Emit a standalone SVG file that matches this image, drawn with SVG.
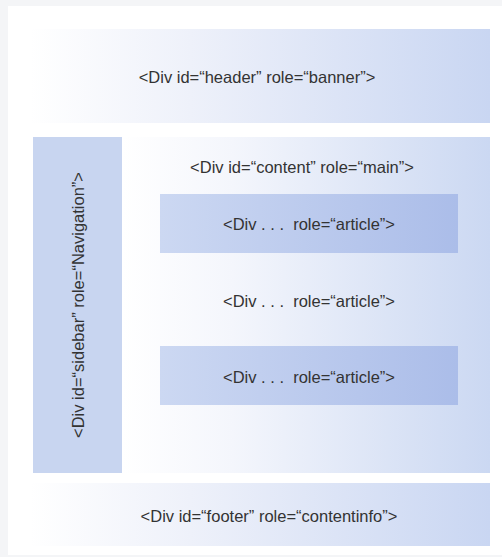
<svg xmlns="http://www.w3.org/2000/svg" width="502" height="557" viewBox="0 0 502 557">
<defs>
<linearGradient id="gWide" x1="0" y1="0" x2="1" y2="0">
<stop offset="0" stop-color="#ffffff"/>
<stop offset="0.35" stop-color="#eef1fa"/>
<stop offset="1" stop-color="#c9d6f2"/>
</linearGradient>
<linearGradient id="gContent" x1="0" y1="0" x2="1" y2="0">
<stop offset="0" stop-color="#ffffff"/>
<stop offset="0.3" stop-color="#f4f6fc"/>
<stop offset="1" stop-color="#cbd8f2"/>
</linearGradient>
<linearGradient id="gArticle" x1="0" y1="0" x2="1" y2="0">
<stop offset="0" stop-color="#ccd8f2"/>
<stop offset="1" stop-color="#abbde9"/>
</linearGradient>
<style>
text{font-family:"Liberation Sans",Arial,sans-serif;font-size:16.5px;fill:#333333;text-anchor:middle;dominant-baseline:central;white-space:pre}
</style>
</defs>
<rect x="0" y="0" width="502" height="557" fill="#f4f5f7"/>
<rect x="8" y="6" width="494" height="549" fill="#ffffff"/>
<g id="header">
<rect x="30" y="29" width="460" height="94" fill="url(#gWide)"/>
<text x="257" y="77">&lt;Div id=“header” role=“banner”&gt;</text>
</g>
<g id="sidebar">
<rect x="33" y="137" width="89" height="336" fill="#c8d5f0"/>
<text transform="translate(78,305) rotate(-90)">&lt;Div id=“sidebar” role=“Navigation”&gt;</text>
</g>
<g id="content">
<rect x="122" y="137" width="368" height="336" fill="url(#gContent)"/>
<text x="302" y="167">&lt;Div id=“content” role=“main”&gt;</text>
</g>
<g id="article1">
<rect x="160" y="194" width="298" height="59" fill="url(#gArticle)"/>
<text x="309" y="224">&lt;Div . . .  role=“article”&gt;</text>
</g>
<g id="article2">
<text x="309" y="301">&lt;Div . . .  role=“article”&gt;</text>
</g>
<g id="article3">
<rect x="160" y="346" width="298" height="59" fill="url(#gArticle)"/>
<text x="309" y="377">&lt;Div . . .  role=“article”&gt;</text>
</g>
<g id="footer">
<rect x="30" y="483" width="460" height="63" fill="url(#gWide)"/>
<text x="269" y="516">&lt;Div id=“footer” role=“contentinfo”&gt;</text>
</g>
<g id="connectors"/>
</svg>
